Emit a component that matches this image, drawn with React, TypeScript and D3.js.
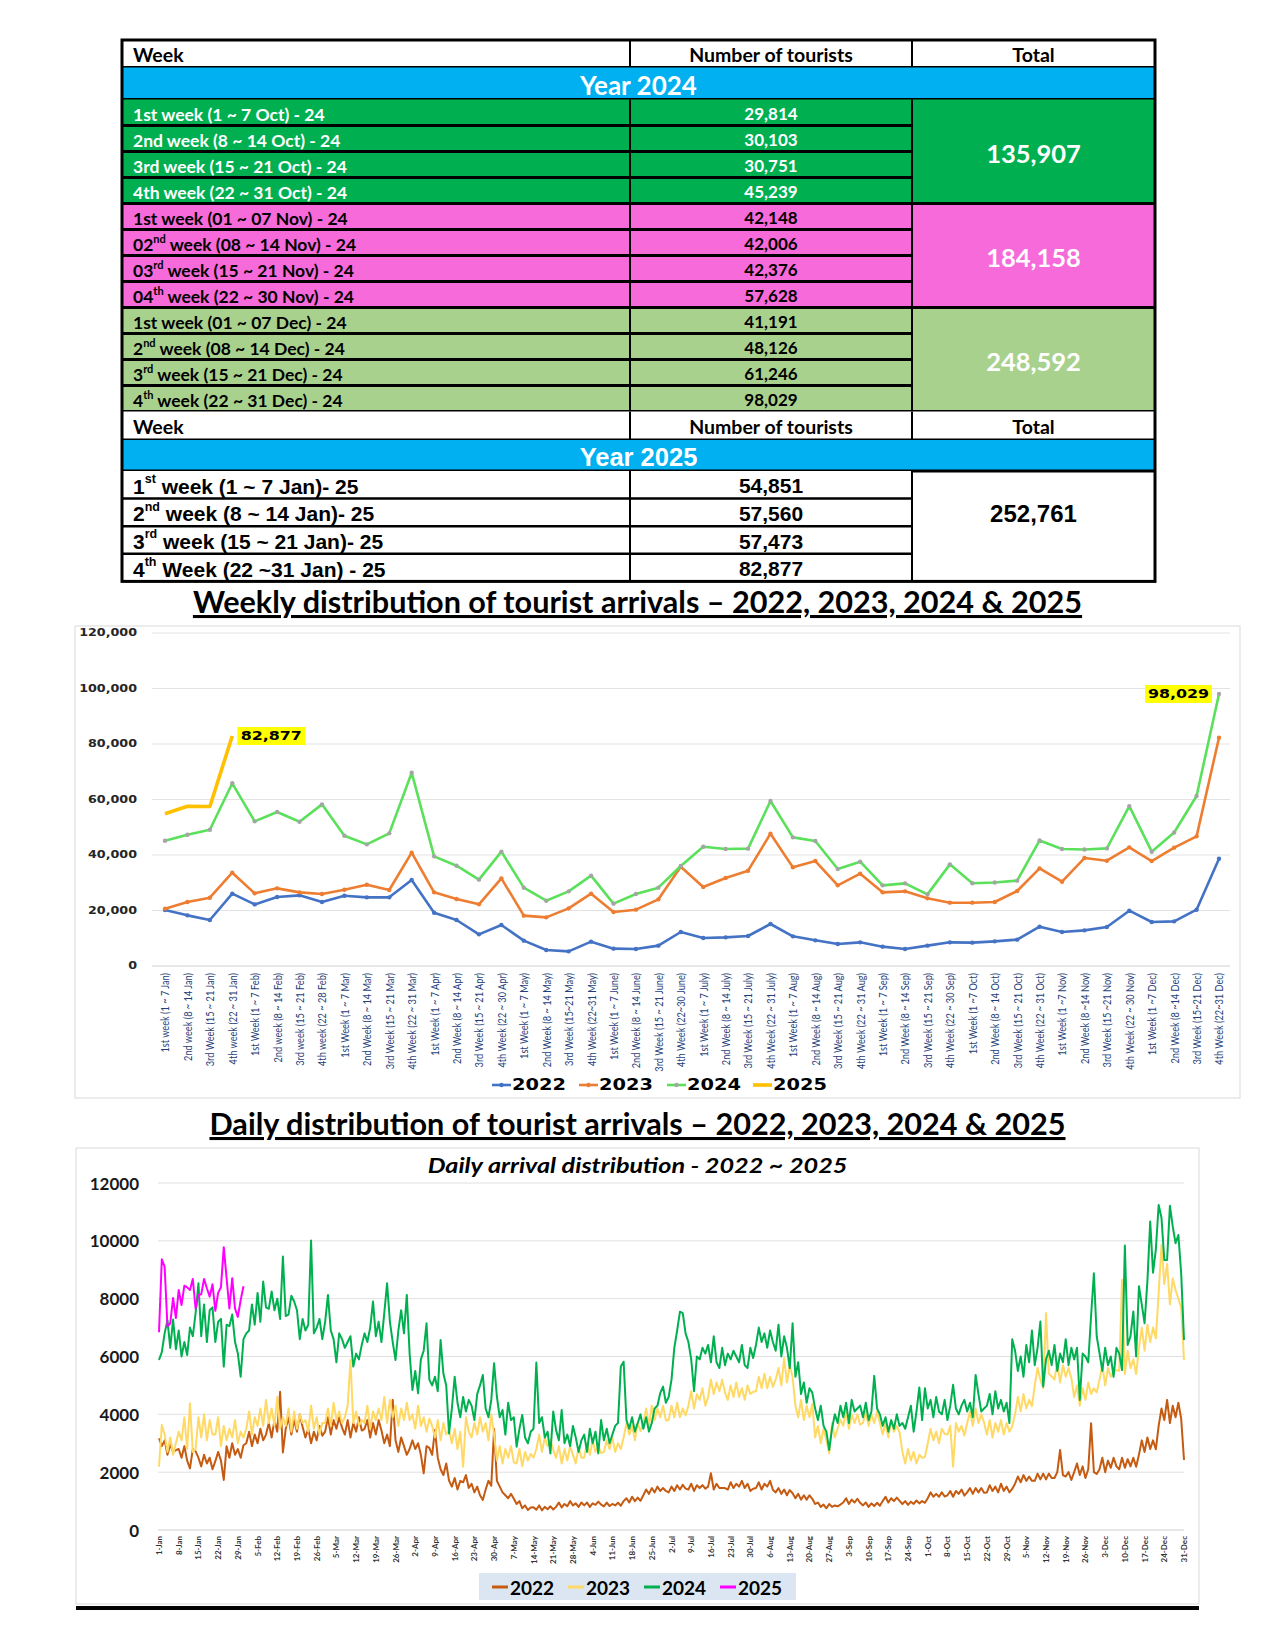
import React from "react";
import * as d3 from "d3";

// ---------------- TABLE DATA ----------------
const T2024_LABELS: [string, string, string][] = [
  ["1st week (1 ~ 7 Oct) - 24", "", ""],
  ["2nd week (8 ~ 14 Oct) - 24", "", ""],
  ["3rd week (15 ~ 21 Oct) - 24", "", ""],
  ["4th week (22 ~ 31 Oct) - 24", "", ""],
  ["1st week (01 ~ 07 Nov) - 24", "", ""],
  ["02", "nd", " week (08 ~ 14 Nov) - 24"],
  ["03", "rd", " week (15 ~ 21 Nov) - 24"],
  ["04", "th", " week (22 ~ 30 Nov) - 24"],
  ["1st week (01 ~ 07 Dec) - 24", "", ""],
  ["2", "nd", " week (08 ~ 14 Dec) - 24"],
  ["3", "rd", " week (15 ~ 21 Dec) - 24"],
  ["4", "th", " week (22 ~ 31 Dec) - 24"],
];
const T2024_VALUES = [29814, 30103, 30751, 45239, 42148, 42006, 42376, 57628, 41191, 48126, 61246, 98029];
const T2024_TOTALS = [135907, 184158, 248592];
const T2025_LABELS: [string, string, string][] = [
  ["1", "st", " week (1 ~ 7 Jan)- 25"],
  ["2", "nd", " week (8 ~ 14 Jan)- 25"],
  ["3", "rd", " week (15 ~ 21 Jan)- 25"],
  ["4", "th", " Week (22 ~31 Jan) - 25"],
];
const T2025_VALUES = [54851, 57560, 57473, 82877];
const T2025_TOTAL = 252761;

// ---------------- WEEKLY DATA ----------------
const WEEK_LABELS = [
  "1st week (1 ~ 7 Jan)", "2nd week (8 ~ 14 Jan)", "3rd Week (15 ~ 21 Jan)", "4th week (22 ~ 31 Jan)",
  "1st Week (1 ~ 7 Feb)", "2nd week (8 ~ 14 Feb)", "3rd week (15 ~ 21 Feb)", "4th week (22 ~ 28 Feb)",
  "1st Week (1 ~ 7 Mar)", "2nd Week (8 ~ 14 Mar)", "3rd Week (15 ~ 21 Mar)", "4th Week (22 ~ 31 Mar)",
  "1st Week (1 ~ 7 Apr)", "2nd Week (8 ~ 14 Apr)", "3rd Week (15 ~ 21 Apr)", "4th Week (22 ~ 30 Apr)",
  "1st Week (1 ~ 7 May)", "2nd Week (8 ~ 14 May)", "3rd Week (15~21 May)", "4th Week (22~31 May)",
  "1st Week (1 ~ 7 June)", "2nd Week (8 ~ 14 June)", "3rd Week (15 ~ 21 June)", "4th Week (22~30 June)",
  "1st Week (1 ~ 7 July)", "2nd Week (8 ~ 14 July)", "3rd Week (15 ~ 21 July)", "4th Week (22 ~ 31 July)",
  "1st Week (1 ~ 7 Aug)", "2nd Week (8 ~ 14 Aug)", "3rd Week (15 ~ 21 Aug)", "4th Week (22 ~ 31 Aug)",
  "1st Week (1 ~ 7 Sep)", "2nd Week (8 ~ 14 Sep)", "3rd Week (15 ~ 21 Sep)", "4th Week (22 ~ 30 Sep)",
  "1st Week (1 ~7 Oct)", "2nd Week (8 ~ 14 Oct)", "3rd Week (15 ~ 21 Oct)", "4th Week (22 ~ 31 Oct)",
  "1st Week (1 ~7 Nov)", "2nd Week (8 ~14 Nov)", "3rd  Week (15 ~21 Nov)", "4th Week (22 ~ 30 Nov)",
  "1st Week (1 ~7 Dec)", "2nd Week (8 ~14 Dec)", "3rd Week (15~21 Dec)", "4th Week (22~31 Dec)",
];
const WEEKLY_2022 = [20180, 18250, 16580, 26060, 22200, 24860, 25460, 23060, 25340, 24740, 24740, 31000, 19200, 16570, 11400, 14770, 9130, 5760, 5280, 8770, 6250, 6130, 7330, 12250, 10090, 10330, 10810, 15130, 10690, 9250, 7930, 8530, 6970, 6130, 7330, 8530, 8410, 8890, 9490, 14170, 12250, 12850, 14050, 19930, 15850, 16090, 20290, 38670];
const WEEKLY_2023 = [20660, 23060, 24620, 33630, 26180, 27980, 26540, 25940, 27500, 29300, 27380, 40830, 26540, 24140, 22220, 31590, 18140, 17530, 20780, 26060, 19460, 20300, 24020, 35790, 28460, 31700, 34350, 47680, 35550, 37830, 29060, 33270, 26540, 26900, 24380, 22820, 22820, 23060, 27020, 35190, 30380, 38910, 37950, 42760, 37830, 42640, 46720, 82270];
const WEEKLY_2024 = [45150, 47320, 49120, 65840, 52120, 55490, 52000, 58250, 46960, 43840, 47800, 69660, 39510, 36150, 31110, 41200, 28230, 23540, 26900, 32550, 22460, 25940, 28230, 36030, 43000, 42150, 42280, 59450, 46360, 45040, 34950, 37590, 29060, 29780, 25820, 36630, 29814, 30103, 30751, 45239, 42148, 42006, 42376, 57628, 41191, 48126, 61246, 98029];
const WEEKLY_2025 = [54851, 57560, 57473, 82877];
const WEEKLY_Y_TICKS = [0, 20000, 40000, 60000, 80000, 100000, 120000];
const WEEKLY_SERIES = ["2022", "2023", "2024", "2025"];

// ---------------- DAILY DATA ----------------
const DAILY_2022 = [
  3170, 2900, 3100, 2600, 2950, 2700, 2760, 2800, 2500, 2900, 2400, 2130, 2800, 2720, 2500, 2200, 2600, 2300, 2500, 2100, 2380, 2700, 2400, 1730, 2900, 2500, 3000, 2600, 2800, 2500, 2930,
  3000, 3400, 2900, 3300, 3000, 3500, 3100, 3300, 3700, 3200, 3800, 3400, 4780, 2680, 3500, 3900, 3300, 3800, 3400, 4000, 3560, 3200, 3500, 3000, 3400, 3100, 3600, 3260,
  3400, 3900, 3300, 3800, 3500, 3900, 3540, 3300, 3800, 3200, 3700, 3400, 3900, 3440, 3500, 3800, 3200, 3700, 3300, 3800, 3440, 3000, 3300, 2900, 4500, 3100, 2700, 3200, 2900, 2600, 2800,
  3100, 2800, 3000, 2600, 1960, 2900, 2840, 2600, 3460, 2500, 2100, 1900, 2300, 1710, 1500, 1800, 1400, 1700, 1650, 1900, 1450, 1600, 1300, 1500, 1200, 1040, 1400, 1700, 1530, 3500,
  1700, 1500, 1300, 1200, 1100, 1250, 1080, 900, 1000, 750, 850, 690, 780, 790, 700, 850, 680, 800, 720, 820, 710, 800, 950, 780, 900, 820, 1000, 850, 920, 800, 950,
  850, 950, 800, 920, 870, 980, 880, 820, 950, 830, 900, 850, 940, 840, 1000, 1100, 950, 1150, 1000, 1120, 1010, 1200, 1400, 1250, 1450, 1300, 1500, 1350, 1450, 1350,
  1300, 1500, 1350, 1550, 1400, 1560, 1430, 1400, 1600, 1350, 1550, 1450, 1550, 1430, 1500, 1960, 1400, 1600, 1450, 1450, 1450, 1400, 1650, 1450, 1600, 1500, 1700, 1450, 1600, 1350, 1430,
  1450, 1650, 1400, 1600, 1500, 1700, 1390, 1300, 1450, 1250, 1400, 1200, 1380, 1270, 1100, 1250, 1050, 1200, 1050, 1200, 1080, 900, 950, 800, 880, 750, 900, 800, 850, 820, 880,
  950, 1100, 900, 1050, 950, 1080, 940, 850, 950, 800, 920, 830, 940, 840, 1000, 1150, 950, 1100, 1000, 1120, 1010, 900, 1000, 870, 980, 900, 1020, 920, 1000, 940,
  1100, 1300, 1150, 1250, 1150, 1300, 1160, 1200, 1350, 1150, 1350, 1250, 1400, 1190, 1300, 1450, 1250, 1450, 1300, 1450, 1290, 1300, 1550, 1350, 1500, 1300, 1600, 1350, 1500, 1300, 1420,
  1600, 1850, 1650, 1900, 1700, 1850, 1700, 1700, 1950, 1750, 1950, 1750, 1950, 1800, 1800, 2000, 2770, 1900, 1850, 2000, 1730, 2000, 2300, 1900, 2200, 1800, 2100, 3690, 2000, 1940,
  2100, 2500, 2000, 2400, 2150, 2500, 2200, 2100, 2500, 2150, 2450, 2200, 2500, 2190, 2600, 3100, 2700, 3200, 2800, 3100, 2790, 3600, 4200, 3800, 4500, 3700, 4300, 3900, 4400, 3850, 2420,
];
const DAILY_2023 = [
  2190, 3630, 3300, 2700, 3200, 2600, 3000, 3400, 3100, 3900, 2800, 4380, 2700, 2800, 3900, 3200, 4000, 3100, 3800, 3300, 3300, 3900, 2900, 3600, 3100, 3500, 3200, 3800, 3000, 3400, 3200,
  3500, 4100, 3300, 3900, 3600, 4200, 3600, 4500, 3700, 4200, 3600, 4600, 3500, 3900, 3600, 4200, 3400, 4100, 3500, 4000, 3700, 3800, 3400, 4300, 3500, 3900, 3300, 3700,
  3700, 4200, 3600, 4400, 3800, 4100, 3700, 3900, 4300, 5880, 3700, 4100, 3600, 3800, 3700, 4300, 3500, 4100, 3800, 4200, 3800, 4600, 3700, 4500, 3900, 4300, 3600, 4200, 3800, 4400, 3800,
  4000, 3500, 4300, 3600, 3900, 3400, 3850, 3600, 3200, 3800, 3100, 3700, 3300, 3450, 3000, 3500, 2800, 3400, 2190, 3900, 3400, 3200, 3700, 3300, 3900, 3400, 3700, 3100, 4000, 3300,
  2400, 2900, 2300, 2800, 2500, 2900, 2340, 2300, 2800, 2200, 2700, 2400, 2630, 2500, 2800, 3300, 2700, 3200, 2900, 3100, 2780, 2500, 2900, 2300, 2800, 2400, 2900, 2600, 2300, 2860, 2500,
  2500, 3000, 2600, 3100, 2700, 2900, 2660, 2700, 3100, 2800, 3200, 2700, 3000, 2800, 3200, 3700, 3300, 3600, 3100, 3700, 3420, 3700, 4200, 3600, 4300, 3800, 4200, 3900, 4300, 3790,
  3800, 4300, 3900, 4400, 3900, 4200, 3960, 4300, 4800, 4200, 4700, 4500, 4900, 4300, 4600, 5200, 4700, 5100, 4800, 5200, 4750, 4500, 5000, 4600, 5100, 4600, 4900, 4500, 5000, 4700, 4780,
  4800, 5300, 4900, 5400, 4900, 5300, 4950, 5200, 5600, 5000, 5940, 5100, 5700, 5290, 4300, 3900, 4500, 3800, 4300, 3900, 4360, 3200, 3600, 3000, 3500, 3100, 2650, 3700, 3200, 3500, 3820,
  3600, 4100, 3500, 4000, 3700, 4000, 3640, 3700, 4100, 3600, 4000, 3700, 4100, 3700, 3300, 3700, 3200, 3800, 3400, 3600, 3380, 2700, 2300, 2800, 2400, 2700, 2300, 2600, 2500, 2520,
  3000, 3500, 3100, 3400, 3000, 3500, 3320, 3300, 3600, 2190, 3700, 3400, 3600, 3270, 3700, 4100, 3600, 4200, 3700, 4000, 3720, 3300, 3800, 3200, 3700, 3400, 3800, 3300, 3700, 3400, 3590,
  4000, 4600, 4100, 4700, 4200, 4500, 4280, 5000, 5600, 5200, 4900, 7500, 5400, 5310, 5200, 5800, 5100, 5700, 5300, 5600, 5250, 4600, 5000, 4300, 4900, 4500, 5100, 4700, 4900, 4760,
  5200, 5700, 5000, 5600, 5300, 5500, 5530, 5500, 8650, 5400, 6200, 5600, 5900, 5390, 6300, 7000, 6200, 7100, 6500, 7000, 6620, 8200, 9860, 8500, 9200, 7800, 8700, 8300, 8000, 7700, 5880,
];
const DAILY_2024 = [
  5880, 6150, 6800, 7250, 6300, 7280, 6250, 6900, 6000, 6500, 6050, 7000, 6700, 7500, 8530, 6700, 7800, 6500, 7600, 7700, 6500, 7200, 7300, 5650, 7100, 7050, 7450, 6500, 6100, 5300, 6600,
  6800, 6900, 7800, 7100, 8200, 7200, 8590, 7700, 7650, 8250, 7600, 8000, 7300, 9460, 7400, 7450, 8100, 7900, 7600, 6600, 7300, 6900, 7100, 10010, 6800, 7000, 7300, 6600,
  7200, 8130, 6900, 6600, 5800, 6800, 6600, 6300, 6500, 6700, 5650, 6100, 5900, 6400, 6800, 6500, 7000, 7900, 6700, 7200, 6500, 7500, 8530, 7200, 6500, 5880, 6900, 7600, 6800, 8130, 6100,
  4840, 5500, 4730, 5900, 6200, 7150, 5200, 5000, 5300, 4800, 6570, 5400, 5000, 3340, 4200, 5300, 4400, 3900, 4600, 4100, 4500, 4300, 3800, 4700, 5000, 5360, 4200, 3900, 4500, 5770,
  4600, 3900, 4150, 3300, 4400, 3800, 3900, 2880, 3500, 3980, 3200, 3000, 3400, 3500, 5790, 3700, 3900, 3200, 3400, 2650, 4100, 3460, 3100, 4150, 3000, 3300, 2900, 3600, 3200, 2700, 3100,
  3300, 2700, 3500, 3000, 3400, 2650, 3800, 3100, 3500, 3000, 3300, 3600, 3700, 5650, 5820, 3800, 3500, 3900, 3400, 3700, 4000, 3500, 3900, 3400, 3700, 4200, 4300, 4730, 4960, 4400,
  4600, 5200, 6300, 6900, 7550, 7500, 6800, 6500, 5900, 4800, 6000, 5900, 6300, 6100, 6400, 5800, 6700, 5800, 5600, 6300, 5700, 6100, 5900, 6200, 6000, 5800, 6400, 5700, 5600, 6300, 5950,
  6400, 7000, 6500, 6800, 6300, 6900, 6500, 6200, 7100, 6000, 6700, 6300, 5600, 7150, 5300, 5800, 4700, 5100, 4400, 4900, 4750, 4200, 3800, 4300, 3600, 3400, 2770, 3500, 4000, 3700, 4300,
  3900, 4400, 3700, 4500, 4100, 4200, 4300, 3900, 4400, 3800, 4100, 5330, 4200, 4000, 3600, 3900, 3400, 3800, 3500, 4000, 3600, 3700, 3500, 3900, 4300, 3400, 4100, 4930, 3800, 4900,
  4200, 4500, 3900, 4600, 4100, 4000, 4500, 3800, 4300, 5020, 4200, 4000, 4300, 4500, 4100, 4400, 3900, 5360, 4700, 4100, 4200, 4300, 4700, 4000, 4800, 4200, 4500, 4100, 4400, 3700, 6600,
  6200, 5500, 6000, 5300, 6400, 5800, 6900, 5700, 6300, 7210, 4960, 5900, 6200, 5700, 6400, 5500, 6100, 5800, 6600, 5700, 6300, 5900, 6300, 4500, 6100, 6000, 5800, 7400, 8880, 6700,
  6110, 5500, 6300, 5700, 6000, 5300, 6300, 6100, 5530, 9840, 6400, 6700, 7560, 6000, 8430, 7800, 7150, 8600, 10670, 8900, 9700, 11240, 10800, 9340, 9340, 11210, 10500, 9920, 10200, 8880, 6570,
];
const DAILY_2025 = [6840, 9360, 9110, 7040, 7150, 8020, 7330, 8300, 7780, 8450, 8390, 8300, 8680, 7660, 8130, 8150, 8680, 8360, 8070, 8500, 7580, 8200, 8400, 9780, 8710, 7660, 8710, 7660, 7370, 7950, 8430];
const DAY_TICK_LABELS = [
  "1-Jan", "8-Jan", "15-Jan", "22-Jan", "29-Jan", "5-Feb", "12-Feb", "19-Feb", "26-Feb", "5-Mar", "12-Mar", "19-Mar", "26-Mar",
  "2-Apr", "9-Apr", "16-Apr", "23-Apr", "30-Apr", "7-May", "14-May", "21-May", "28-May", "4-Jun", "11-Jun", "18-Jun", "25-Jun",
  "2-Jul", "9-Jul", "16-Jul", "23-Jul", "30-Jul", "6-Aug", "13-Aug", "20-Aug", "27-Aug", "3-Sep", "10-Sep", "17-Sep", "24-Sep",
  "1-Oct", "8-Oct", "15-Oct", "22-Oct", "29-Oct", "5-Nov", "12-Nov", "19-Nov", "26-Nov", "3-Dec", "10-Dec", "17-Dec", "24-Dec", "31-Dec",
];
const DAILY_Y_TICKS = [0, 2000, 4000, 6000, 8000, 10000, 12000];
const DAILY_SERIES = ["2022", "2023", "2024", "2025"];

// ---------------- STYLE ----------------
const CAL = "Lato, 'Open Sans', sans-serif";
const ARIAL = "'Liberation Sans', Arial, sans-serif";
const VERD = "'DejaVu Sans', Verdana, sans-serif";
const fmt = d3.format(",");

function SupLabel({ parts, x, y, size, sup, fill, family }: any) {
  const [a, b, c] = parts;
  return (
    <text x={x} y={y} fontSize={size} fill={fill} fontFamily={family} fontWeight="bold" dominantBaseline="central">
      <tspan>{a}</tspan>
      {b ? (
        <>
          <tspan fontSize={sup} dy={-size * 0.32}>{b}</tspan>
          <tspan dy={size * 0.32}>{c}</tspan>
        </>
      ) : null}
    </text>
  );
}

function Table() {
  const X0 = 122, X1 = 630, X2 = 912, X3 = 1155;
  const cm = (X1 + X2) / 2, ct = (X2 + X3) / 2;
  const groupFill = ["#00B050", "#F76AD9", "#A9D18E"];
  const groupText = ["#FFFFFF", "#000000", "#000000"];
  const r0 = 99.5, rh = 26;
  const r25 = 471, rh25 = 27.6;
  const els: any[] = [];
  const header = (y0: number, y1: number, k: string) => (
    <g key={k}>
      <rect x={X0} y={y0} width={X3 - X0} height={y1 - y0} fill="#fff" />
      <text x={133} y={(y0 + y1) / 2 + 1} fontFamily={CAL} fontWeight="bold" fontSize={19.5} dominantBaseline="central">Week</text>
      <text x={cm} y={(y0 + y1) / 2 + 1} fontFamily={CAL} fontWeight="bold" fontSize={19.5} textAnchor="middle" dominantBaseline="central">Number of tourists</text>
      <text x={ct} y={(y0 + y1) / 2 + 1} fontFamily={CAL} fontWeight="bold" fontSize={19.5} textAnchor="middle" dominantBaseline="central">Total</text>
      <line x1={X1} x2={X1} y1={y0} y2={y1} stroke="#000" strokeWidth={2} />
      <line x1={X2} x2={X2} y1={y0} y2={y1} stroke="#000" strokeWidth={2} />
      <line x1={X0} x2={X3} y1={y1} y2={y1} stroke="#000" strokeWidth={3} />
    </g>
  );
  const band = (y0: number, y1: number, txt: string, fam: string, size: number, k: string) => (
    <g key={k}>
      <rect x={X0} y={y0} width={X3 - X0} height={y1 - y0} fill="#00B0F0" />
      <text x={(X0 + X3) / 2} y={(y0 + y1) / 2 + 1} fill="#fff" fontFamily={fam} fontWeight="bold" fontSize={size} textAnchor="middle" dominantBaseline="central">{txt}</text>
      <line x1={X0} x2={X3} y1={y1} y2={y1} stroke="#000" strokeWidth={3} />
    </g>
  );
  els.push(header(40, 67.5, "h1"));
  els.push(band(67.5, r0, "Year 2024", CAL, 26, "b1"));
  T2024_LABELS.forEach((p, i) => {
    const g = Math.floor(i / 4);
    const y = r0 + i * rh;
    els.push(
      <g key={"r" + i}>
        <rect x={X0} y={y} width={X2 - X0} height={rh} fill={groupFill[g]} />
        <SupLabel parts={p} x={133} y={y + rh / 2 + 1} size={17.5} sup={11} fill={groupText[g]} family={CAL} />
        <text x={cm} y={y + rh / 2 + 1} fontFamily={CAL} fontWeight="bold" fontSize={17} textAnchor="middle" dominantBaseline="central" fill={groupText[g]}>{fmt(T2024_VALUES[i])}</text>
      </g>
    );
  });
  T2024_TOTALS.forEach((t, g) => {
    const y = r0 + g * 4 * rh;
    els.push(
      <g key={"t" + g}>
        <rect x={X2} y={y} width={X3 - X2} height={rh * 4} fill={groupFill[g]} />
        <text x={ct} y={y + rh * 2 + 1} fontFamily={CAL} fontWeight="bold" fontSize={25.5} textAnchor="middle" dominantBaseline="central" fill="#fff">{fmt(t)}</text>
      </g>
    );
  });
  for (let i = 1; i <= 12; i++) {
    const y = r0 + i * rh;
    const full = i % 4 === 0;
    els.push(<line key={"hl" + i} x1={X0} x2={full ? X3 : X2} y1={y} y2={y} stroke="#000" strokeWidth={3} />);
  }
  els.push(<line key="v1" x1={X1} x2={X1} y1={r0} y2={r0 + 12 * rh} stroke="#000" strokeWidth={2} />);
  els.push(<line key="v2" x1={X2} x2={X2} y1={r0} y2={r0 + 12 * rh} stroke="#000" strokeWidth={2} />);
  const h2y = r0 + 12 * rh;
  els.push(header(h2y, 440, "h2"));
  els.push(band(440, r25, "Year 2025", ARIAL, 25.5, "b2"));
  T2025_LABELS.forEach((p, i) => {
    const y = r25 + i * rh25;
    els.push(
      <g key={"s" + i}>
        <rect x={X0} y={y} width={X2 - X0} height={rh25} fill="#fff" />
        <SupLabel parts={p} x={133} y={y + rh25 / 2 + 1} size={21} sup={12.5} fill="#000" family={ARIAL} />
        <text x={cm} y={y + rh25 / 2 + 1} fontFamily={ARIAL} fontWeight="bold" fontSize={21} textAnchor="middle" dominantBaseline="central">{fmt(T2025_VALUES[i])}</text>
        {i > 0 ? <line x1={X0} x2={X2} y1={y} y2={y} stroke="#000" strokeWidth={2.5} /> : null}
      </g>
    );
  });
  els.push(
    <text key="tot25" x={ct} y={r25 + rh25 * 1.55} fontFamily={ARIAL} fontWeight="bold" fontSize={24} textAnchor="middle" dominantBaseline="central">{fmt(T2025_TOTAL)}</text>
  );
  els.push(<line key="v3" x1={X1} x2={X1} y1={r25} y2={r25 + 4 * rh25} stroke="#000" strokeWidth={2} />);
  els.push(<line key="v4" x1={X2} x2={X2} y1={r25} y2={r25 + 4 * rh25} stroke="#000" strokeWidth={2} />);
  els.push(<rect key="outer" x={X0} y={40} width={X3 - X0} height={r25 + 4 * rh25 - 40} fill="none" stroke="#000" strokeWidth={3} />);
  return <g>{els}</g>;
}

function WeeklyChart() {
  const y = d3.scaleLinear().domain([0, 120000]).range([966, 633]);
  const x = d3.scalePoint<number>().domain(d3.range(WEEK_LABELS.length)).range([165, 1219]);
  const line = d3.line<number>().x((_, i) => x(i)!).y((d) => y(d));
  const colors = ["#4472C4", "#ED7D31", "#5BE05B", "#FFC000"];
  const markerFill = ["#4472C4", "#ED7D31", "#A5A5A5"];
  const series = [WEEKLY_2022, WEEKLY_2023, WEEKLY_2024];
  const SX = 1.27;
  const legendX = [492, 579, 667, 753];
  return (
    <g>
      <text x={637.5} y={613} textAnchor="middle" fontFamily={CAL} fontWeight="bold" fontSize={30.6} style={{ textDecoration: "underline" }}>
        Weekly distribution of tourist arrivals – 2022, 2023, 2024 &amp; 2025
      </text>
      <rect x={75} y={626} width={1165} height={472} fill="#fff" stroke="#D9D9D9" strokeWidth={1} />
      {WEEKLY_Y_TICKS.map((t) => (
        <g key={t}>
          <line x1={152} x2={1230} y1={y(t)} y2={y(t)} stroke={t === 0 ? "#D0D0D0" : "#E3E3E3"} strokeWidth={1} />
          <text transform={`translate(137,${y(t)}) scale(${SX},1)`} textAnchor="end" dominantBaseline="central" fontFamily={VERD} fontWeight="bold" fontSize={10} fill="#262626">
            {fmt(t)}
          </text>
        </g>
      ))}
      {WEEK_LABELS.map((l, i) => (
        <text key={i} transform={`translate(${x(i)},973) rotate(-90) scale(1,1.25)`} textAnchor="end" dominantBaseline="central" fontFamily={CAL} fontSize={9.2} fill="#1F3F7A">
          {l}
        </text>
      ))}
      {series.map((s, k) => (
        <g key={k}>
          <path d={line(s)!} fill="none" stroke={colors[k]} strokeWidth={2.6} strokeLinejoin="round" />
          {s.map((v, i) => (
            <circle key={i} cx={x(i)} cy={y(v)} r={2.2} fill={markerFill[k]} />
          ))}
        </g>
      ))}
      <path d={line(WEEKLY_2025)!} fill="none" stroke={colors[3]} strokeWidth={3.6} strokeLinejoin="round" />
      <rect x={x(3)! + 5} y={y(82877) - 9} width={68} height={18} fill="#FFFF00" />
      <text transform={`translate(${x(3)! + 39},${y(82877)}) scale(${SX},1)`} textAnchor="middle" dominantBaseline="central" fontFamily={VERD} fontWeight="bold" fontSize={12.5}>
        {fmt(WEEKLY_2025[3])}
      </text>
      <rect x={x(47)! - 74} y={y(98029) - 9} width={67} height={18} fill="#FFFF00" />
      <text transform={`translate(${x(47)! - 40.5},${y(98029)}) scale(${SX},1)`} textAnchor="middle" dominantBaseline="central" fontFamily={VERD} fontWeight="bold" fontSize={12.5}>
        {fmt(WEEKLY_2024[47])}
      </text>
      {WEEKLY_SERIES.map((s, k) => (
        <g key={s}>
          <line x1={legendX[k]} x2={legendX[k] + 19} y1={1085} y2={1085} stroke={colors[k]} strokeWidth={k === 3 ? 3.6 : 2.6} />
          {k < 3 ? <circle cx={legendX[k] + 9.5} cy={1085} r={2.2} fill={markerFill[k]} /> : null}
          <text transform={`translate(${legendX[k] + 20},1085) scale(1.25,1)`} dominantBaseline="central" fontFamily={VERD} fontWeight="bold" fontSize={15.5}>
            {s}
          </text>
        </g>
      ))}
    </g>
  );
}

function DailyChart() {
  const y = d3.scaleLinear().domain([0, 12000]).range([1530, 1183]);
  const x = d3.scaleLinear().domain([0, 364]).range([159, 1184]);
  const line = d3.line<number>().x((_, i) => x(i)).y((d) => y(d));
  const colors = ["#C55A11", "#FFD966", "#00B050", "#FF00FF"];
  const series = [DAILY_2022, DAILY_2023, DAILY_2024, DAILY_2025];
  const legendX = [492, 568, 644, 720];
  return (
    <g>
      <text x={637.5} y={1135} textAnchor="middle" fontFamily={CAL} fontWeight="bold" fontSize={30.6} style={{ textDecoration: "underline" }}>
        Daily distribution of tourist arrivals – 2022, 2023, 2024 &amp; 2025
      </text>
      <rect x={76} y={1148} width={1123} height={456} fill="#fff" stroke="#D9D9D9" strokeWidth={1} />
      <text transform="translate(637.5,1173) scale(1.2,1)" textAnchor="middle" fontFamily={CAL} fontWeight="bold" fontStyle="italic" fontSize={21}>
        Daily arrival distribution - 2022 ~ 2025
      </text>
      {DAILY_Y_TICKS.map((t) => (
        <g key={t}>
          <line x1={158} x2={1184} y1={y(t)} y2={y(t)} stroke={t === 0 ? "#D0D0D0" : "#E0E0E0"} strokeWidth={1} />
          <text x={139} y={y(t)} textAnchor="end" dominantBaseline="central" fontFamily={CAL} fontWeight="bold" fontSize={17} fill="#1a1a1a">
            {t}
          </text>
        </g>
      ))}
      {DAY_TICK_LABELS.map((l, i) => (
        <text key={l} transform={`translate(${x(i * 7)},1536) rotate(-90)`} textAnchor="end" dominantBaseline="central" fontFamily={CAL} fontWeight="bold" fontSize={8} fill="#333">
          {l}
        </text>
      ))}
      {series.map((s, k) => (
        <path key={k} d={line(s)!} fill="none" stroke={colors[k]} strokeWidth={2} strokeLinejoin="round" />
      ))}
      <rect x={479} y={1573} width={317} height={27} fill="#DCE6F2" />
      {DAILY_SERIES.map((s, k) => (
        <g key={s}>
          <line x1={legendX[k]} x2={legendX[k] + 16} y1={1587} y2={1587} stroke={colors[k]} strokeWidth={3} />
          <text x={legendX[k] + 18} y={1587} dominantBaseline="central" fontFamily={CAL} fontWeight="bold" fontSize={19}>
            {s}
          </text>
        </g>
      ))}
      <line x1={76} x2={1199} y1={1608} y2={1608} stroke="#000" strokeWidth={4} />
    </g>
  );
}

export default function App() {
  return (
    <svg width={1275} height={1650} style={{ position: "absolute", left: 0, top: 0, background: "#fff" }}>
      <rect x={0} y={0} width={1275} height={1650} fill="#fff" />
      <Table />
      <WeeklyChart />
      <DailyChart />
    </svg>
  );
}
